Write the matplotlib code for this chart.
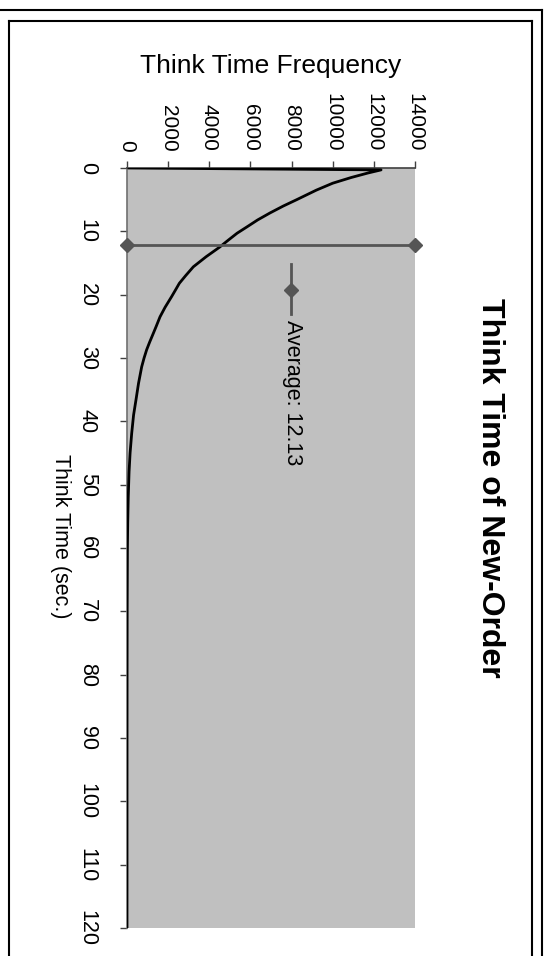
import matplotlib
matplotlib.use("Agg")
import matplotlib.pyplot as plt
from matplotlib.lines import Line2D

plt.rcParams['font.family'] = ['Liberation Sans', 'DejaVu Sans']

# Data
think_time = [0, 0.3, 0.8, 1.5, 2.4, 3.5, 5, 6, 7.1, 8.2, 9.3, 10.3, 11.4, 12.5, 14,
              15.6, 17, 18.2, 19.3, 20.3, 22, 23.5, 25, 26.1, 27.5, 28.7, 30, 31.4,
              34, 36.6, 39, 41.9, 45, 48, 52, 56, 60, 70, 80, 90, 100, 110, 120]
frequency = [100, 12350, 11700, 10900, 10000, 9200, 8250, 7600, 6950, 6350, 5830, 5350,
             4920, 4500, 3850, 3225, 2850, 2545, 2350, 2170, 1850, 1605, 1420, 1280,
             1100, 955, 830, 713, 560, 437, 320, 228, 150, 100, 60, 35, 20, 8, 4, 2, 1, 1, 0]
average_time = 12.13
freq_ticks = [0, 2000, 4000, 6000, 8000, 10000, 12000, 14000]
time_ticks = [0, 10, 20, 30, 40, 50, 60, 70, 80, 90, 100, 110, 120]

W, H = 547, 956
fig = plt.figure(figsize=(W / 100, H / 100), dpi=100)
fig.patch.set_facecolor('white')

def fx(x):
    return x / W

def fy(y):
    return 1 - y / H

ax = fig.add_axes([fx(127), fy(928), (415 - 127) / W, (928 - 168) / H])
ax.set_facecolor('#C0C0C0')
ax.set_xlim(0, 14000)
ax.set_ylim(120, 0)

ax.plot(frequency, think_time, color='black', lw=2, zorder=3)
ax.plot([0, 14000], [average_time, average_time], color='#555555', lw=2,
        marker='D', markersize=7, markerfacecolor='#555555', markeredgecolor='#555555',
        zorder=4, clip_on=False)

ax.xaxis.tick_top()
ax.set_xticks(freq_ticks)
ax.set_xticklabels([str(v) for v in freq_ticks], rotation=-90, fontsize=15)
ax.set_yticks(time_ticks)
ax.set_yticklabels([str(v) for v in time_ticks], rotation=-90, fontsize=15.5, va='center')
ax.tick_params(axis='x', direction='out', length=5, width=1, color='#404040', pad=7)
ax.tick_params(axis='y', direction='out', length=5, width=1, color='#404040', pad=16)
for s in ['right', 'bottom']:
    ax.spines[s].set_visible(False)
ax.spines['top'].set_color('#404040')
ax.spines['left'].set_color('#707070')
ax.spines['top'].set_linewidth(1.2)
ax.spines['left'].set_linewidth(1.2)

# Axis titles and chart title (rotated layout)
fig.text(fx(271), fy(66), 'Think Time Frequency', fontsize=19, ha='center', va='center')
fig.text(fx(60), fy(536), 'Think Time (sec.)', fontsize=15.5, rotation=-90,
         ha='center', va='center')
fig.text(fx(490), fy(488), 'Think Time of New-Order', fontsize=23, fontweight='bold',
         rotation=-90, ha='center', va='center')

# Legend (rotated)
fig.add_artist(Line2D([fx(291), fx(291)], [fy(264), fy(314)], color='#555555', lw=2))
fig.add_artist(Line2D([fx(291)], [fy(290)], marker='D', markersize=7,
                      color='#555555', lw=0))
fig.text(fx(292), fy(320), 'Average: 12.13', fontsize=15.5, rotation=-90,
         ha='center', va='top')

# Frame lines
fig.add_artist(Line2D([0, fx(542)], [fy(9.5), fy(9.5)], color='black', lw=1.5))
fig.add_artist(Line2D([fx(542), fx(542)], [fy(9.5), 0], color='black', lw=1.5))
fig.add_artist(Line2D([fx(8.5), fx(8.5)], [0, fy(20.5)], color='black', lw=1.5))
fig.add_artist(Line2D([fx(8.5), fx(532)], [fy(20.5), fy(20.5)], color='black', lw=1.5))
fig.add_artist(Line2D([fx(532), fx(532)], [fy(20.5), 0], color='black', lw=1.5))

fig.savefig('out.png', dpi=100)
